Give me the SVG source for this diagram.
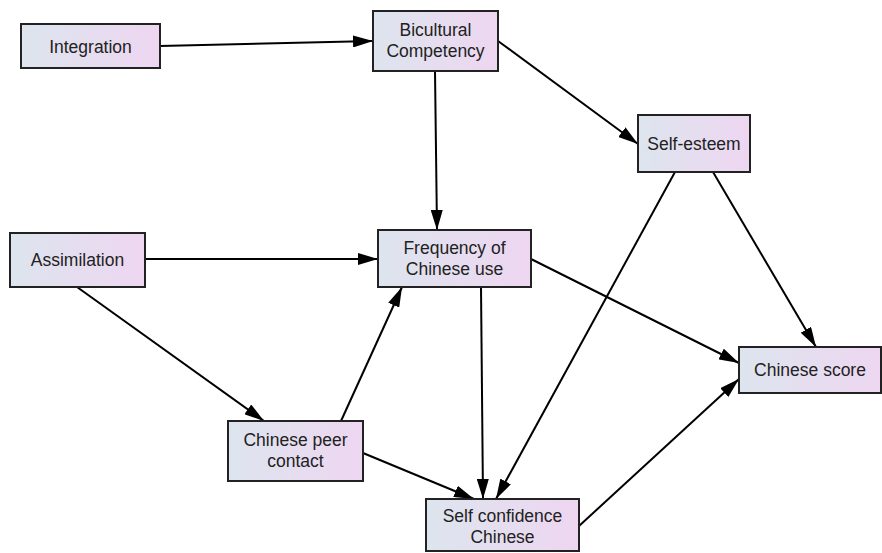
<svg xmlns="http://www.w3.org/2000/svg" width="882" height="553" viewBox="0 0 882 553">
<defs>
<linearGradient id="g" x1="0" y1="0" x2="1" y2="0">
<stop offset="0" stop-color="#dde5ee"/>
<stop offset="1" stop-color="#eed6f1"/>
</linearGradient>
<marker id="ah" viewBox="0 0 20 12" refX="20" refY="6" markerWidth="20" markerHeight="12" markerUnits="userSpaceOnUse" orient="auto">
<path d="M0,0 L20,6 L0,12 Z" fill="#000"/>
</marker>
<style>
.box{fill:url(#g);stroke:#222;stroke-width:2}
text{font-family:"Liberation Sans",Arial,sans-serif;font-size:17.5px;fill:#222;text-anchor:middle}
.e{stroke:#000;stroke-width:2;fill:none;marker-end:url(#ah)}
</style>
</defs>
<rect width="882" height="553" fill="#fff"/>
<g id="connectors">
<line class="e" x1="160" y1="46" x2="373" y2="41"/>
<line class="e" x1="435" y1="71" x2="437" y2="230"/>
<line class="e" x1="498" y1="41" x2="638" y2="144"/>
<line class="e" x1="145" y1="259" x2="378" y2="259"/>
<line class="e" x1="77" y1="287" x2="264" y2="421"/>
<line class="e" x1="341" y1="421" x2="402" y2="287"/>
<line class="e" x1="481" y1="287" x2="483" y2="499"/>
<line class="e" x1="531" y1="259" x2="739" y2="363"/>
<line class="e" x1="675" y1="172" x2="496" y2="499"/>
<line class="e" x1="713" y1="172" x2="816" y2="347"/>
<line class="e" x1="363" y1="453" x2="474" y2="499"/>
<line class="e" x1="579" y1="526" x2="739" y2="379"/>
</g>
<g id="integration">
<rect class="box" x="21" y="24" width="139" height="44"/>
<text x="90.5" y="52.5">Integration</text>
</g>
<g id="bicultural">
<rect class="box" x="373" y="11" width="125" height="60"/>
<text x="435.5" y="36">Bicultural</text>
<text x="435.5" y="57">Competency</text>
</g>
<g id="selfesteem">
<rect class="box" x="638" y="115" width="112" height="57"/>
<text x="694" y="150">Self-esteem</text>
</g>
<g id="assimilation">
<rect class="box" x="10" y="233" width="135" height="54"/>
<text x="77.5" y="266">Assimilation</text>
</g>
<g id="frequency">
<rect class="box" x="378" y="230" width="153" height="57"/>
<text x="454.5" y="254">Frequency of</text>
<text x="454.5" y="275">Chinese use</text>
</g>
<g id="chinesescore">
<rect class="box" x="739" y="347" width="142" height="46"/>
<text x="810" y="376">Chinese score</text>
</g>
<g id="peercontact">
<rect class="box" x="228" y="421" width="135" height="60"/>
<text x="295.5" y="446">Chinese peer</text>
<text x="295.5" y="467">contact</text>
</g>
<g id="selfconfidence">
<rect class="box" x="426" y="499" width="153" height="52"/>
<text x="502.5" y="522">Self confidence</text>
<text x="502.5" y="543">Chinese</text>
</g>
</svg>
